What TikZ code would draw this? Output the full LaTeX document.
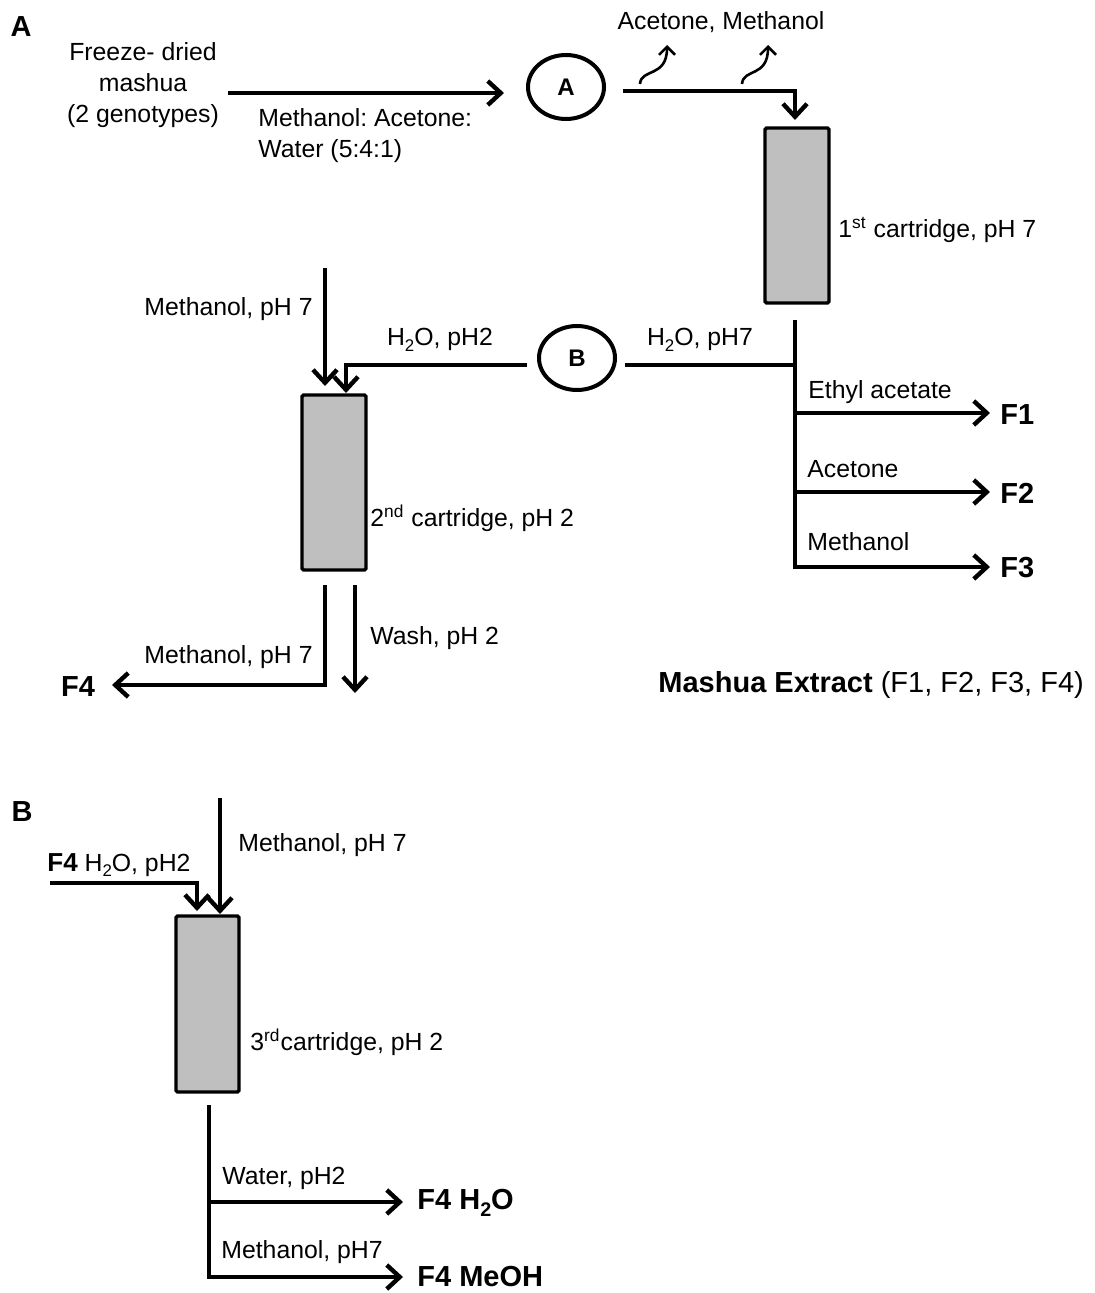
\documentclass[tikz,border=0pt]{standalone}
\usepackage{fontspec}
\setmainfont{Liberation Sans}
\usetikzlibrary{arrows.meta,shapes.geometric}
\newcommand{\subs}[1]{\raisebox{-0.45ex}{\scalebox{0.68}{#1}}}
\frenchspacing
\begin{document}
\begin{tikzpicture}[x=0.5pt,y=-0.5pt,
  line/.style={line width=2.2pt},
  arr/.style={line width=2.2pt,-{Straight Barb[length=6.5pt,width=12pt]}},
  sq/.style={line width=1.3pt,-{Straight Barb[length=4pt,width=8pt]}},
  lbl/.style={font=\fontsize{12.4}{15.5}\selectfont, inner sep=0pt},
  big/.style={font=\bfseries\fontsize{14.5}{17}\selectfont, inner sep=0pt},
  cart/.style={draw, line width=1.7pt, fill=gray!50, rounded corners=0.8pt, inner sep=0pt, minimum width=32pt, minimum height=87.5pt},
  hub/.style={draw, ellipse, line width=2pt, inner sep=0pt, minimum width=38pt, minimum height=32pt, font=\bfseries\fontsize{12}{14}\selectfont}]
\useasboundingbox (0,0) rectangle (1094,1293);

% ---------- Panel A ----------
\node[big] (lA) at (21,27) {A};
\node[lbl, align=center] (fd) at (143,85) {Freeze- dried\\mashua\\(2 genotypes)};
\node[lbl, align=left, anchor=north west] (mix) at (258,108) {Methanol: Acetone:\\Water (5:4:1)};
\node[hub] (A) at (566,87) {A};
\node[lbl] (am) at (721,22) {Acetone, Methanol};
\node[cart] (c1) at (797,215.5) {};
\node[lbl, anchor=west] (t1) at (838,230) {1\textsuperscript{st} cartridge, pH 7};

\coordinate (a0) at (228,93); \coordinate (a1) at (504,93);
\draw[arr] (a0) -- (a1);
\coordinate (b0) at (623,91); \coordinate (b1) at (795,91); \coordinate (b2) at (795,120);
\draw[arr] (b0) -- (b1) -- (b2);
\coordinate (s1) at (640,84); \coordinate (s1t) at (667,45);
\draw[sq] (s1) .. controls (641,68) and (667,78) .. (s1t);
\coordinate (s2) at (742,84); \coordinate (s2t) at (768,45);
\draw[sq] (s2) .. controls (743,68) and (768,78) .. (s2t);

\node[hub] (B) at (577,358) {B};
\node[cart] (c2) at (334,482.5) {};
\node[lbl, anchor=west] (t2) at (370,518) {2\textsuperscript{nd} cartridge, pH 2};
\node[lbl, anchor=east] (mt) at (313,309) {Methanol, pH 7};
\node[lbl] (h2l) at (440,340) {H\subs{2}O, pH2};
\node[lbl] (h7l) at (700,340) {H\subs{2}O, pH7};

\coordinate (m0) at (325,268); \coordinate (m1) at (325,386);
\draw[arr] (m0) -- (m1);
\coordinate (h0) at (527,365); \coordinate (h1) at (346,365); \coordinate (h2) at (346,393);
\draw[arr] (h0) -- (h1) -- (h2);
\coordinate (k0) at (625,365); \coordinate (k1) at (795,365);
\draw[line] (k0) -- (k1);

\coordinate (v0) at (795,320); \coordinate (v1) at (795,567); \coordinate (f3t) at (990,567);
\draw[arr] (v0) -- (v1) -- (f3t);
\coordinate (e1) at (795,413); \coordinate (f1t) at (990,413);
\draw[arr] (e1) -- (f1t);
\coordinate (e2) at (795,492); \coordinate (f2t) at (990,492);
\draw[arr] (e2) -- (f2t);
\node[lbl, anchor=west] (ea) at (808,392) {Ethyl acetate};
\node[lbl, anchor=west] (ac) at (807,469) {Acetone};
\node[lbl, anchor=west] (me) at (807,542) {Methanol};
\node[big, anchor=west] (F1) at (1000,415) {F1};
\node[big, anchor=west] (F2) at (1000,493) {F2};
\node[big, anchor=west] (F3) at (1000,568) {F3};

\coordinate (w0) at (325,585); \coordinate (w1) at (325,685); \coordinate (w2) at (112,685);
\draw[arr] (w0) -- (w1) -- (w2);
\coordinate (x0) at (355,585); \coordinate (x1) at (355,693);
\draw[arr] (x0) -- (x1);
\node[big] (F4) at (78,687) {F4};
\node[lbl, anchor=east] (mt2) at (313,657) {Methanol, pH 7};
\node[lbl, anchor=west] (wa) at (370,638) {Wash, pH 2};
\node[anchor=west, inner sep=0pt, font=\fontsize{14.5}{17}\selectfont] (me2) at (658,685) {\textbf{Mashua Extract} (F1, F2, F3, F4)};

% ---------- Panel B ----------
\node[big] (lB) at (22,812) {B};
\node[cart, minimum width=31.5pt, minimum height=88pt] (c3) at (207.5,1004) {};
\node[lbl, anchor=west] (t3) at (250,1042) {3\textsuperscript{rd}cartridge, pH 2};
\node[lbl, anchor=west] (in3) at (47,865) {{\bfseries\fontsize{13}{15}\selectfont F4} H\subs{2}O, pH2};
\node[lbl, anchor=west] (mt3) at (238,845) {Methanol, pH 7};

\coordinate (n0) at (220,798); \coordinate (n1) at (220,914);
\draw[arr] (n0) -- (n1);
\coordinate (g0) at (50,883); \coordinate (g1) at (197,883); \coordinate (g2) at (197,911);
\draw[arr] (g0) -- (g1) -- (g2);

\coordinate (r0) at (209,1105); \coordinate (r1) at (209,1277); \coordinate (r2) at (403,1277);
\draw[arr] (r0) -- (r1) -- (r2);
\coordinate (q0) at (209,1202); \coordinate (q1) at (403,1202);
\draw[arr] (q0) -- (q1);
\node[lbl, anchor=west] (wl) at (222,1178) {Water, pH2};
\node[lbl, anchor=west] (ml) at (221,1252) {Methanol, pH7};
\node[big, anchor=west] (fw) at (417,1203) {F4 H\subs{2}O};
\node[big, anchor=west] (fm) at (417,1277) {F4 MeOH};
\end{tikzpicture}
\end{document}
